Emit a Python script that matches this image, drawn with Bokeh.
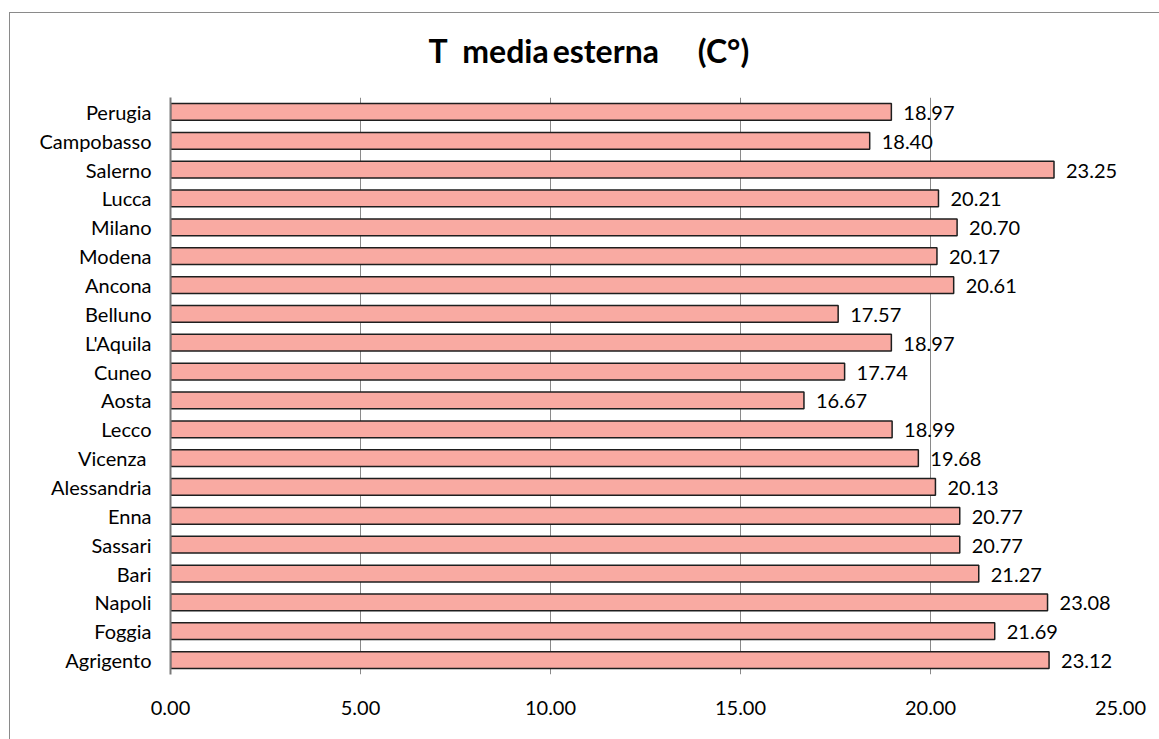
from bokeh.plotting import figure
from bokeh.models import ColumnDataSource, FactorRange, Range1d, FixedTicker, NumeralTickFormatter, Title
from bokeh.core.properties import value
from bokeh.embed import file_html
from bokeh.resources import INLINE

# Average outdoor temperature per city (°C), listed top to bottom
cities = ["Perugia", "Campobasso", "Salerno", "Lucca", "Milano", "Modena", "Ancona",
          "Belluno", "L'Aquila", "Cuneo", "Aosta", "Lecco", "Vicenza ", "Alessandria",
          "Enna", "Sassari", "Bari", "Napoli", "Foggia", "Agrigento"]
temps = [18.97, 18.40, 23.25, 20.21, 20.70, 20.17, 20.61,
         17.57, 18.97, 17.74, 16.67, 18.99, 19.68, 20.13,
         20.77, 20.77, 21.27, 23.08, 21.69, 23.12]
x_ticks = [0, 5, 10, 15, 20, 25]

FONT = "Lato"
NB = "\u00a0"
TITLE = f"T{NB}{NB}media\u2009esterna{NB}{NB}{NB}{NB}{NB}(C°)"

src = ColumnDataSource(dict(
    city=cities,
    temp=temps,
    label=[f"{t:.2f}" for t in temps],
))

p = figure(
    width=1150, height=727,
    y_range=FactorRange(*reversed(cities), range_padding=0),
    x_range=Range1d(0, 25),
    output_backend="svg", toolbar_location=None,
    min_border_left=160, min_border_right=40,
    min_border_top=84, min_border_bottom=66,
)
p.margin = (12, 0, 0, 9)
p.styles = {"border-top": "1.5px solid #8a8a8a", "border-left": "1.5px solid #8a8a8a"}
p.outline_line_color = None
p.background_fill_color = "white"
p.border_fill_color = "white"

# a thin blank strip between the frame and the title keeps the title higher up
gap = Title(text=" ", text_font=FONT, text_font_size="1px", standoff=20)
p.add_layout(gap, "above")
p.add_layout(Title(
    text=TITLE, text_font=FONT, text_font_size="32px", text_font_style="bold",
    text_color="black", align="left", offset=258, standoff=10,
), "above")

p.hbar(y="city", right="temp", left=0, height=0.58, source=src,
       fill_color="#F9AAA2", line_color="#1e1e1e", line_width=1.5)

p.text(x="temp", y="city", text="label", source=src,
       x_offset=12, y_offset=1, text_baseline="middle", text_align="left",
       text_font=value(FONT), text_font_size="20px", text_color="black")

# x axis: labels only, vertical gridlines
p.xaxis.ticker = FixedTicker(ticks=x_ticks)
p.xaxis.formatter = NumeralTickFormatter(format="0.00")
p.xaxis.axis_line_color = None
p.xaxis.major_tick_line_color = None
p.xaxis.minor_tick_line_color = None
p.xaxis.major_label_standoff = 20
p.xaxis.major_label_text_font = FONT
p.xaxis.major_label_text_font_size = "20px"
p.xaxis.major_label_text_color = "black"
p.xgrid.ticker = FixedTicker(ticks=x_ticks)
p.xgrid.grid_line_color = "#8a8a8a"
p.xgrid.grid_line_width = 1

# y axis: city names with a solid axis line
p.yaxis.axis_line_color = "#7a7a7a"
p.yaxis.axis_line_width = 2
p.yaxis.major_tick_line_color = None
p.yaxis.minor_tick_line_color = None
p.yaxis.major_label_standoff = 13
p.yaxis.major_label_text_font = FONT
p.yaxis.major_label_text_font_size = "20px"
p.yaxis.major_label_text_color = "black"
p.ygrid.grid_line_color = None

open("out.html", "w").write(file_html(p, INLINE))
